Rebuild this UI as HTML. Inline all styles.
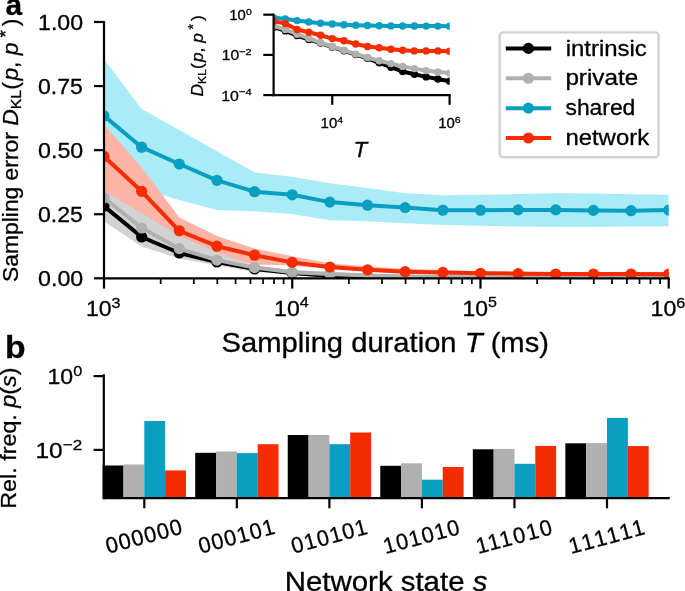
<!DOCTYPE html>
<html><head><meta charset="utf-8"><title>Sampling error figure</title>
<style>html,body{margin:0;padding:0;background:#fff;overflow:hidden}svg{display:block;will-change:transform}text{font-family:"Liberation Sans",sans-serif;stroke:#000;stroke-width:0.3px;stroke-linejoin:round}</style>
</head><body>
<svg width="685" height="591" viewBox="0 0 685 591">
<rect width="685" height="591" fill="#ffffff"/>
<defs><clipPath id="ca"><rect x="104" y="22" width="564.7" height="256.3"/></clipPath><clipPath id="ci"><rect x="273.6" y="14.7" width="176" height="80.6"/></clipPath></defs>
<g clip-path="url(#ca)">
<polygon points="104,59 141.65,108.9 179.29,130 216.94,151.2 254.59,172.5 292.23,176.8 329.88,183.3 367.53,188 405.17,193.2 442.82,195.3 480.47,194.8 518.11,194 555.76,193.2 593.41,193.4 631.05,194.2 668.7,194.8 668.7,226.2 631.05,226.5 593.41,226.7 555.76,226.7 518.11,226.4 480.47,225.8 442.82,225 405.17,223.2 367.53,221.2 329.88,220.3 292.23,214 254.59,211.2 216.94,210 179.29,200 141.65,189 104,178" fill="#aaebf8"/>
<polygon points="104,124.5 141.65,167.5 179.29,217.5 216.94,236 254.59,248.5 292.23,256.2 329.88,263.3 367.53,266.5 405.17,268.8 442.82,270 480.47,271.2 518.11,271.6 555.76,271.9 593.41,271.9 631.05,271.9 668.7,272.1 668.7,276.2 631.05,276 593.41,276 555.76,276 518.11,275.7 480.47,275.3 442.82,274.4 405.17,273.7 367.53,271.5 329.88,269 292.23,265.5 254.59,264.5 216.94,257 179.29,244 141.65,222 104,210" fill="#fbb4a6"/>
<polygon points="104,191.1 141.65,213 179.29,236 216.94,252.5 254.59,265.5 292.23,270 329.88,272 367.53,273.8 405.17,275 442.82,275.8 480.47,276.2 518.11,276.6 555.76,276.9 593.41,277.1 631.05,277.2 668.7,277.3 668.7,278.3 631.05,278.3 593.41,278.3 555.76,278.3 518.11,278.3 480.47,278.3 442.82,278.3 405.17,278 367.53,277.5 329.88,276.5 292.23,274.8 254.59,271.7 216.94,265.5 179.29,258.5 141.65,246.6 104,221.5" fill="#d3d3d3"/>
<polyline points="104,206.1 141.65,237 179.29,253 216.94,262 254.59,269 292.23,273 329.88,276 367.53,277 405.17,277.8 442.82,277.9 480.47,278 518.11,278 555.76,278 593.41,278 631.05,278 668.7,278" fill="none" stroke="#000000" stroke-width="4" stroke-linejoin="round"/>
<circle cx="104" cy="206.1" r="5.6" fill="#000000"/>
<circle cx="141.65" cy="237" r="5.6" fill="#000000"/>
<circle cx="179.29" cy="253" r="5.6" fill="#000000"/>
<circle cx="216.94" cy="262" r="5.6" fill="#000000"/>
<circle cx="254.59" cy="269" r="5.6" fill="#000000"/>
<circle cx="292.23" cy="273" r="5.6" fill="#000000"/>
<circle cx="329.88" cy="276" r="5.6" fill="#000000"/>
<circle cx="367.53" cy="277" r="5.6" fill="#000000"/>
<circle cx="405.17" cy="277.8" r="5.6" fill="#000000"/>
<circle cx="442.82" cy="277.9" r="5.6" fill="#000000"/>
<circle cx="480.47" cy="278" r="5.6" fill="#000000"/>
<circle cx="518.11" cy="278" r="5.6" fill="#000000"/>
<circle cx="555.76" cy="278" r="5.6" fill="#000000"/>
<circle cx="593.41" cy="278" r="5.6" fill="#000000"/>
<circle cx="631.05" cy="278" r="5.6" fill="#000000"/>
<circle cx="668.7" cy="278" r="5.6" fill="#000000"/>
<polyline points="104,197.8 141.65,228 179.29,248.6 216.94,260.1 254.59,267.6 292.23,272.3 329.88,274 367.53,275.5 405.17,276.4 442.82,277 480.47,277.35 518.11,277.6 555.76,277.75 593.41,277.85 631.05,277.95 668.7,278" fill="none" stroke="#b0b0b0" stroke-width="4" stroke-linejoin="round"/>
<circle cx="104" cy="197.8" r="5.6" fill="#b0b0b0"/>
<circle cx="141.65" cy="228" r="5.6" fill="#b0b0b0"/>
<circle cx="179.29" cy="248.6" r="5.6" fill="#b0b0b0"/>
<circle cx="216.94" cy="260.1" r="5.6" fill="#b0b0b0"/>
<circle cx="254.59" cy="267.6" r="5.6" fill="#b0b0b0"/>
<circle cx="292.23" cy="272.3" r="5.6" fill="#b0b0b0"/>
<circle cx="329.88" cy="274" r="5.6" fill="#b0b0b0"/>
<circle cx="367.53" cy="275.5" r="5.6" fill="#b0b0b0"/>
<circle cx="405.17" cy="276.4" r="5.6" fill="#b0b0b0"/>
<circle cx="442.82" cy="277" r="5.6" fill="#b0b0b0"/>
<circle cx="480.47" cy="277.35" r="5.6" fill="#b0b0b0"/>
<circle cx="518.11" cy="277.6" r="5.6" fill="#b0b0b0"/>
<circle cx="555.76" cy="277.75" r="5.6" fill="#b0b0b0"/>
<circle cx="593.41" cy="277.85" r="5.6" fill="#b0b0b0"/>
<circle cx="631.05" cy="277.95" r="5.6" fill="#b0b0b0"/>
<circle cx="668.7" cy="278" r="5.6" fill="#b0b0b0"/>
<polyline points="104,115.8 141.65,147.2 179.29,164 216.94,180.3 254.59,191.7 292.23,194.8 329.88,202.1 367.53,205.2 405.17,207.6 442.82,210.2 480.47,210.2 518.11,209.9 555.76,209.9 593.41,210.4 631.05,210.7 668.7,210.1" fill="none" stroke="#0a9fc1" stroke-width="4" stroke-linejoin="round"/>
<circle cx="104" cy="115.8" r="5.6" fill="#0a9fc1"/>
<circle cx="141.65" cy="147.2" r="5.6" fill="#0a9fc1"/>
<circle cx="179.29" cy="164" r="5.6" fill="#0a9fc1"/>
<circle cx="216.94" cy="180.3" r="5.6" fill="#0a9fc1"/>
<circle cx="254.59" cy="191.7" r="5.6" fill="#0a9fc1"/>
<circle cx="292.23" cy="194.8" r="5.6" fill="#0a9fc1"/>
<circle cx="329.88" cy="202.1" r="5.6" fill="#0a9fc1"/>
<circle cx="367.53" cy="205.2" r="5.6" fill="#0a9fc1"/>
<circle cx="405.17" cy="207.6" r="5.6" fill="#0a9fc1"/>
<circle cx="442.82" cy="210.2" r="5.6" fill="#0a9fc1"/>
<circle cx="480.47" cy="210.2" r="5.6" fill="#0a9fc1"/>
<circle cx="518.11" cy="209.9" r="5.6" fill="#0a9fc1"/>
<circle cx="555.76" cy="209.9" r="5.6" fill="#0a9fc1"/>
<circle cx="593.41" cy="210.4" r="5.6" fill="#0a9fc1"/>
<circle cx="631.05" cy="210.7" r="5.6" fill="#0a9fc1"/>
<circle cx="668.7" cy="210.1" r="5.6" fill="#0a9fc1"/>
<polyline points="104,156.4 141.65,191.3 179.29,230.8 216.94,246.2 254.59,255.2 292.23,262.4 329.88,267 367.53,269.8 405.17,271.7 442.82,272.4 480.47,273.3 518.11,273.7 555.76,274 593.41,274 631.05,274 668.7,274.2" fill="none" stroke="#f52c00" stroke-width="4" stroke-linejoin="round"/>
<circle cx="104" cy="156.4" r="5.6" fill="#f52c00"/>
<circle cx="141.65" cy="191.3" r="5.6" fill="#f52c00"/>
<circle cx="179.29" cy="230.8" r="5.6" fill="#f52c00"/>
<circle cx="216.94" cy="246.2" r="5.6" fill="#f52c00"/>
<circle cx="254.59" cy="255.2" r="5.6" fill="#f52c00"/>
<circle cx="292.23" cy="262.4" r="5.6" fill="#f52c00"/>
<circle cx="329.88" cy="267" r="5.6" fill="#f52c00"/>
<circle cx="367.53" cy="269.8" r="5.6" fill="#f52c00"/>
<circle cx="405.17" cy="271.7" r="5.6" fill="#f52c00"/>
<circle cx="442.82" cy="272.4" r="5.6" fill="#f52c00"/>
<circle cx="480.47" cy="273.3" r="5.6" fill="#f52c00"/>
<circle cx="518.11" cy="273.7" r="5.6" fill="#f52c00"/>
<circle cx="555.76" cy="274" r="5.6" fill="#f52c00"/>
<circle cx="593.41" cy="274" r="5.6" fill="#f52c00"/>
<circle cx="631.05" cy="274" r="5.6" fill="#f52c00"/>
<circle cx="668.7" cy="274.2" r="5.6" fill="#f52c00"/>
</g>
<g stroke="#000000" stroke-width="2.2" fill="none" stroke-linecap="square">
<line x1="104" y1="22" x2="104" y2="278.3"/>
<line x1="104" y1="278.3" x2="668.7" y2="278.3"/>
</g>
<g stroke="#000000" fill="none">
<line x1="94" y1="278.3" x2="104" y2="278.3" stroke-width="2.2"/>
<line x1="94" y1="214.23" x2="104" y2="214.23" stroke-width="2.2"/>
<line x1="94" y1="150.15" x2="104" y2="150.15" stroke-width="2.2"/>
<line x1="94" y1="86.07" x2="104" y2="86.07" stroke-width="2.2"/>
<line x1="94" y1="22" x2="104" y2="22" stroke-width="2.2"/>
<line x1="104" y1="278.3" x2="104" y2="288.6" stroke-width="2.2"/>
<line x1="292.23" y1="278.3" x2="292.23" y2="288.6" stroke-width="2.2"/>
<line x1="480.47" y1="278.3" x2="480.47" y2="288.6" stroke-width="2.2"/>
<line x1="668.7" y1="278.3" x2="668.7" y2="288.6" stroke-width="2.2"/>
<line x1="160.66" y1="278.3" x2="160.66" y2="284" stroke-width="1.7"/>
<line x1="193.81" y1="278.3" x2="193.81" y2="284" stroke-width="1.7"/>
<line x1="217.33" y1="278.3" x2="217.33" y2="284" stroke-width="1.7"/>
<line x1="235.57" y1="278.3" x2="235.57" y2="284" stroke-width="1.7"/>
<line x1="250.47" y1="278.3" x2="250.47" y2="284" stroke-width="1.7"/>
<line x1="263.08" y1="278.3" x2="263.08" y2="284" stroke-width="1.7"/>
<line x1="273.99" y1="278.3" x2="273.99" y2="284" stroke-width="1.7"/>
<line x1="283.62" y1="278.3" x2="283.62" y2="284" stroke-width="1.7"/>
<line x1="348.9" y1="278.3" x2="348.9" y2="284" stroke-width="1.7"/>
<line x1="382.04" y1="278.3" x2="382.04" y2="284" stroke-width="1.7"/>
<line x1="405.56" y1="278.3" x2="405.56" y2="284" stroke-width="1.7"/>
<line x1="423.8" y1="278.3" x2="423.8" y2="284" stroke-width="1.7"/>
<line x1="438.71" y1="278.3" x2="438.71" y2="284" stroke-width="1.7"/>
<line x1="451.31" y1="278.3" x2="451.31" y2="284" stroke-width="1.7"/>
<line x1="462.22" y1="278.3" x2="462.22" y2="284" stroke-width="1.7"/>
<line x1="471.85" y1="278.3" x2="471.85" y2="284" stroke-width="1.7"/>
<line x1="537.13" y1="278.3" x2="537.13" y2="284" stroke-width="1.7"/>
<line x1="570.28" y1="278.3" x2="570.28" y2="284" stroke-width="1.7"/>
<line x1="593.79" y1="278.3" x2="593.79" y2="284" stroke-width="1.7"/>
<line x1="612.04" y1="278.3" x2="612.04" y2="284" stroke-width="1.7"/>
<line x1="626.94" y1="278.3" x2="626.94" y2="284" stroke-width="1.7"/>
<line x1="639.54" y1="278.3" x2="639.54" y2="284" stroke-width="1.7"/>
<line x1="650.46" y1="278.3" x2="650.46" y2="284" stroke-width="1.7"/>
<line x1="660.09" y1="278.3" x2="660.09" y2="284" stroke-width="1.7"/>
</g>
</g>
<g clip-path="url(#ci)">
<polyline points="273.6,27.2 285.33,30.9 297.07,35.6 308.8,39.6 320.53,43.1 332.27,47 344,50.8 355.73,54.6 367.47,58.3 379.2,62.8 390.93,67.2 402.67,71.5 414.4,74.3 426.13,76.9 437.87,79 449.6,81.2" fill="none" stroke="#000000" stroke-width="4" stroke-linejoin="round"/>
<circle cx="273.6" cy="27.2" r="3.7" fill="#000000"/>
<circle cx="285.33" cy="30.9" r="3.7" fill="#000000"/>
<circle cx="297.07" cy="35.6" r="3.7" fill="#000000"/>
<circle cx="308.8" cy="39.6" r="3.7" fill="#000000"/>
<circle cx="320.53" cy="43.1" r="3.7" fill="#000000"/>
<circle cx="332.27" cy="47" r="3.7" fill="#000000"/>
<circle cx="344" cy="50.8" r="3.7" fill="#000000"/>
<circle cx="355.73" cy="54.6" r="3.7" fill="#000000"/>
<circle cx="367.47" cy="58.3" r="3.7" fill="#000000"/>
<circle cx="379.2" cy="62.8" r="3.7" fill="#000000"/>
<circle cx="390.93" cy="67.2" r="3.7" fill="#000000"/>
<circle cx="402.67" cy="71.5" r="3.7" fill="#000000"/>
<circle cx="414.4" cy="74.3" r="3.7" fill="#000000"/>
<circle cx="426.13" cy="76.9" r="3.7" fill="#000000"/>
<circle cx="437.87" cy="79" r="3.7" fill="#000000"/>
<circle cx="449.6" cy="81.2" r="3.7" fill="#000000"/>
<polyline points="273.6,25.8 285.33,29.5 297.07,34.2 308.8,38.3 320.53,42.6 332.27,46.5 344,50.3 355.73,54.1 367.47,57.5 379.2,60.7 390.93,63.6 402.67,66.4 414.4,68.6 426.13,70.6 437.87,72 449.6,73.1" fill="none" stroke="#b0b0b0" stroke-width="4" stroke-linejoin="round"/>
<circle cx="273.6" cy="25.8" r="3.7" fill="#b0b0b0"/>
<circle cx="285.33" cy="29.5" r="3.7" fill="#b0b0b0"/>
<circle cx="297.07" cy="34.2" r="3.7" fill="#b0b0b0"/>
<circle cx="308.8" cy="38.3" r="3.7" fill="#b0b0b0"/>
<circle cx="320.53" cy="42.6" r="3.7" fill="#b0b0b0"/>
<circle cx="332.27" cy="46.5" r="3.7" fill="#b0b0b0"/>
<circle cx="344" cy="50.3" r="3.7" fill="#b0b0b0"/>
<circle cx="355.73" cy="54.1" r="3.7" fill="#b0b0b0"/>
<circle cx="367.47" cy="57.5" r="3.7" fill="#b0b0b0"/>
<circle cx="379.2" cy="60.7" r="3.7" fill="#b0b0b0"/>
<circle cx="390.93" cy="63.6" r="3.7" fill="#b0b0b0"/>
<circle cx="402.67" cy="66.4" r="3.7" fill="#b0b0b0"/>
<circle cx="414.4" cy="68.6" r="3.7" fill="#b0b0b0"/>
<circle cx="426.13" cy="70.6" r="3.7" fill="#b0b0b0"/>
<circle cx="437.87" cy="72" r="3.7" fill="#b0b0b0"/>
<circle cx="449.6" cy="73.1" r="3.7" fill="#b0b0b0"/>
<polyline points="273.6,17.6 285.33,19 297.07,20.6 308.8,22 320.53,23.2 332.27,24 344,24.7 355.73,25.2 367.47,25.5 379.2,25.7 390.93,25.9 402.67,26 414.4,26 426.13,26.1 437.87,26.1 449.6,26.2" fill="none" stroke="#0a9fc1" stroke-width="4" stroke-linejoin="round"/>
<circle cx="273.6" cy="17.6" r="3.7" fill="#0a9fc1"/>
<circle cx="285.33" cy="19" r="3.7" fill="#0a9fc1"/>
<circle cx="297.07" cy="20.6" r="3.7" fill="#0a9fc1"/>
<circle cx="308.8" cy="22" r="3.7" fill="#0a9fc1"/>
<circle cx="320.53" cy="23.2" r="3.7" fill="#0a9fc1"/>
<circle cx="332.27" cy="24" r="3.7" fill="#0a9fc1"/>
<circle cx="344" cy="24.7" r="3.7" fill="#0a9fc1"/>
<circle cx="355.73" cy="25.2" r="3.7" fill="#0a9fc1"/>
<circle cx="367.47" cy="25.5" r="3.7" fill="#0a9fc1"/>
<circle cx="379.2" cy="25.7" r="3.7" fill="#0a9fc1"/>
<circle cx="390.93" cy="25.9" r="3.7" fill="#0a9fc1"/>
<circle cx="402.67" cy="26" r="3.7" fill="#0a9fc1"/>
<circle cx="414.4" cy="26" r="3.7" fill="#0a9fc1"/>
<circle cx="426.13" cy="26.1" r="3.7" fill="#0a9fc1"/>
<circle cx="437.87" cy="26.1" r="3.7" fill="#0a9fc1"/>
<circle cx="449.6" cy="26.2" r="3.7" fill="#0a9fc1"/>
<polyline points="273.6,21.3 285.33,23.6 297.07,29.5 308.8,32.3 320.53,35.3 332.27,38.6 344,40.8 355.73,44 367.47,46.5 379.2,47.8 390.93,49.3 402.67,50.3 414.4,50.9 426.13,50.9 437.87,50.9 449.6,51.2" fill="none" stroke="#f52c00" stroke-width="4" stroke-linejoin="round"/>
<circle cx="273.6" cy="21.3" r="3.7" fill="#f52c00"/>
<circle cx="285.33" cy="23.6" r="3.7" fill="#f52c00"/>
<circle cx="297.07" cy="29.5" r="3.7" fill="#f52c00"/>
<circle cx="308.8" cy="32.3" r="3.7" fill="#f52c00"/>
<circle cx="320.53" cy="35.3" r="3.7" fill="#f52c00"/>
<circle cx="332.27" cy="38.6" r="3.7" fill="#f52c00"/>
<circle cx="344" cy="40.8" r="3.7" fill="#f52c00"/>
<circle cx="355.73" cy="44" r="3.7" fill="#f52c00"/>
<circle cx="367.47" cy="46.5" r="3.7" fill="#f52c00"/>
<circle cx="379.2" cy="47.8" r="3.7" fill="#f52c00"/>
<circle cx="390.93" cy="49.3" r="3.7" fill="#f52c00"/>
<circle cx="402.67" cy="50.3" r="3.7" fill="#f52c00"/>
<circle cx="414.4" cy="50.9" r="3.7" fill="#f52c00"/>
<circle cx="426.13" cy="50.9" r="3.7" fill="#f52c00"/>
<circle cx="437.87" cy="50.9" r="3.7" fill="#f52c00"/>
<circle cx="449.6" cy="51.2" r="3.7" fill="#f52c00"/>
</g>
<g stroke="#000" fill="none" stroke-width="2.2" stroke-linecap="square">
<line x1="273.6" y1="14.7" x2="273.6" y2="95.1"/>
<line x1="273.6" y1="95.1" x2="449.6" y2="95.1"/>
</g><g stroke="#000" fill="none" stroke-width="2.2">
<line x1="263.3" y1="14.7" x2="273.6" y2="14.7"/>
<line x1="263.3" y1="54.9" x2="273.6" y2="54.9"/>
<line x1="263.3" y1="95.1" x2="273.6" y2="95.1"/>
<line x1="332.27" y1="95.1" x2="332.27" y2="104.8"/>
<line x1="449.6" y1="95.1" x2="449.6" y2="104.8"/>
</g>
<rect x="499.7" y="32.4" width="158.9" height="124.9" rx="3.5" fill="#fff" stroke="#d1d1d1" stroke-width="2.4"/>
<line x1="505.8" y1="48.4" x2="551.2" y2="48.4" stroke="#000000" stroke-width="4"/>
<circle cx="528.4" cy="48.4" r="5.6" fill="#000000"/>
<line x1="505.8" y1="78.27" x2="551.2" y2="78.27" stroke="#b0b0b0" stroke-width="4"/>
<circle cx="528.4" cy="78.27" r="5.6" fill="#b0b0b0"/>
<line x1="505.8" y1="108.14" x2="551.2" y2="108.14" stroke="#0a9fc1" stroke-width="4"/>
<circle cx="528.4" cy="108.14" r="5.6" fill="#0a9fc1"/>
<line x1="505.8" y1="138.01" x2="551.2" y2="138.01" stroke="#f52c00" stroke-width="4"/>
<circle cx="528.4" cy="138.01" r="5.6" fill="#f52c00"/>
<g>
<rect x="102.66" y="465.5" width="20.87" height="32.6" fill="#000000"/>
<rect x="123.48" y="464.5" width="20.87" height="33.6" fill="#b0b0b0"/>
<rect x="144.3" y="421" width="20.87" height="77.1" fill="#0a9fc1"/>
<rect x="165.12" y="470.4" width="20.87" height="27.7" fill="#f52c00"/>
<rect x="195.2" y="452.8" width="20.87" height="45.3" fill="#000000"/>
<rect x="216.02" y="451.5" width="20.87" height="46.6" fill="#b0b0b0"/>
<rect x="236.84" y="453.1" width="20.87" height="45" fill="#0a9fc1"/>
<rect x="257.66" y="444.2" width="20.87" height="53.9" fill="#f52c00"/>
<rect x="287.74" y="435" width="20.87" height="63.1" fill="#000000"/>
<rect x="308.56" y="435" width="20.87" height="63.1" fill="#b0b0b0"/>
<rect x="329.38" y="444.2" width="20.87" height="53.9" fill="#0a9fc1"/>
<rect x="350.2" y="432.5" width="20.87" height="65.6" fill="#f52c00"/>
<rect x="380.28" y="465.8" width="20.87" height="32.3" fill="#000000"/>
<rect x="401.1" y="463.3" width="20.87" height="34.8" fill="#b0b0b0"/>
<rect x="421.92" y="479.7" width="20.87" height="18.4" fill="#0a9fc1"/>
<rect x="442.74" y="467" width="20.87" height="31.1" fill="#f52c00"/>
<rect x="472.82" y="449.3" width="20.87" height="48.8" fill="#000000"/>
<rect x="493.64" y="448.9" width="20.87" height="49.2" fill="#b0b0b0"/>
<rect x="514.46" y="463.8" width="20.87" height="34.3" fill="#0a9fc1"/>
<rect x="535.28" y="445.9" width="20.87" height="52.2" fill="#f52c00"/>
<rect x="565.36" y="443.3" width="20.87" height="54.8" fill="#000000"/>
<rect x="586.18" y="443.1" width="20.87" height="55" fill="#b0b0b0"/>
<rect x="607" y="417.9" width="20.87" height="80.2" fill="#0a9fc1"/>
<rect x="627.82" y="446.1" width="20.87" height="52" fill="#f52c00"/>
</g>
<g stroke="#000" fill="none" stroke-width="2.2" stroke-linecap="square">
<line x1="103.8" y1="375.4" x2="103.8" y2="498.1"/>
<line x1="103.8" y1="498.1" x2="668.7" y2="498.1"/>
</g><g stroke="#000" fill="none" stroke-width="2.2">
<line x1="93.6" y1="376.1" x2="103.8" y2="376.1"/>
<line x1="93.6" y1="449.9" x2="103.8" y2="449.9"/>
<line x1="144.3" y1="498.1" x2="144.3" y2="508.3"/>
<line x1="236.84" y1="498.1" x2="236.84" y2="508.3"/>
<line x1="329.38" y1="498.1" x2="329.38" y2="508.3"/>
<line x1="421.92" y1="498.1" x2="421.92" y2="508.3"/>
<line x1="514.46" y1="498.1" x2="514.46" y2="508.3"/>
<line x1="607" y1="498.1" x2="607" y2="508.3"/>
</g>
<g fill="#000">
<text transform="translate(37.992,285.944) scale(1.077,1.024)" font-size="21.6">0.00</text>
<text transform="translate(38.001,221.874) scale(1.065,1.024)" font-size="21.6">0.25</text>
<text transform="translate(37.992,157.794) scale(1.077,1.024)" font-size="21.6">0.50</text>
<text transform="translate(38.001,93.724) scale(1.065,1.024)" font-size="21.6">0.75</text>
<text transform="translate(38.061,29.644) scale(1.072,1.024)" font-size="21.6">1.00</text>
<text transform="translate(86.002,315.568) scale(1.066,1.006)" font-size="21.6">10<tspan font-size="15.12" dy="-7.99">3</tspan></text>
<text transform="translate(274.045,315.567) scale(1.069,1.013)" font-size="21.6">10<tspan font-size="15.12" dy="-7.99">4</tspan></text>
<text transform="translate(462.54,315.567) scale(1.061,1.013)" font-size="21.6">10<tspan font-size="15.12" dy="-7.99">5</tspan></text>
<text transform="translate(650.57,315.568) scale(1.073,1.006)" font-size="21.6">10<tspan font-size="15.12" dy="-7.99">6</tspan></text>
<text transform="translate(221.499,352.224) scale(1.101,1.01)" font-size="26.5">Sampling duration <tspan font-style="italic">T</tspan> (ms)</text>
<text transform="translate(18.23,281.893) rotate(-90) scale(1.057,1)" font-size="21.6">Sampling error <tspan font-style="italic">D</tspan><tspan font-size="15.12" dy="3.24">KL</tspan><tspan dy="-3.24">(</tspan><tspan font-style="italic" dx="1.51">p</tspan>, <tspan font-style="italic">p</tspan><tspan font-size="17.71" dx="4.75" dy="-6.48">*</tspan><tspan dx="3.67" dy="6.48">)</tspan></text>
<text transform="translate(5.378,15.314) scale(0.963,0.972)" font-size="31" font-weight="bold">a</text>
<text transform="translate(4.925,357.608) scale(1.088,0.984)" font-size="31" font-weight="bold">b</text>
<text transform="translate(229.337,20.17) scale(1.063,1)" font-size="14">10<tspan font-size="9.80" dy="-5.18">0</tspan></text>
<text transform="translate(221.782,60.373) scale(1.118,0.99)" font-size="14">10<tspan font-size="9.80" dy="-5.18">&#8722;2</tspan></text>
<text transform="translate(221.263,100.57) scale(1.137,0.999)" font-size="14">10<tspan font-size="9.80" dy="-5.18">&#8722;4</tspan></text>
<text transform="translate(320.565,128.27) scale(1.07,0.999)" font-size="14">10<tspan font-size="9.80" dy="-5.18">4</tspan></text>
<text transform="translate(438.237,128.27) scale(1.063,1)" font-size="14">10<tspan font-size="9.80" dy="-5.18">6</tspan></text>
<text transform="translate(353.481,156.9) scale(1.039,1.025)" font-size="21.6" font-style="italic">T</text>
<text transform="translate(203.329,96.441) rotate(-90) scale(1.002,0.974)" font-size="17.3"><tspan font-style="italic">D</tspan><tspan font-size="12.11" dy="2.60">KL</tspan><tspan dy="-2.60">(</tspan><tspan font-style="italic" dx="1.21">p</tspan>, <tspan font-style="italic">p</tspan><tspan font-size="14.19" dx="3.81" dy="-5.19">*</tspan><tspan dx="2.94" dy="5.19">)</tspan></text>
<text transform="translate(565.632,55.996) scale(1.11,1.016)" font-size="21.6">intrinsic</text>
<text transform="translate(565.376,85.451) scale(1.124,1.006)" font-size="21.6">private</text>
<text transform="translate(565.491,115.444) scale(1.058,1.024)" font-size="21.6">shared</text>
<text transform="translate(565.396,144.796) scale(1.107,1.016)" font-size="21.6">network</text>
<text transform="translate(47.476,383.568) scale(1.07,1.006)" font-size="21.6">10<tspan font-size="15.12" dy="-7.99">0</tspan></text>
<text transform="translate(35.499,457.665) scale(1.134,1.019)" font-size="21.6">10<tspan font-size="15.12" dy="-7.99">&#8722;2</tspan></text>
<text transform="translate(15.858,508.77) rotate(-90) scale(1.08,0.994)" font-size="21.6">Rel. freq. <tspan font-style="italic">p</tspan>(<tspan font-style="italic">s</tspan>)</text>
<text transform="translate(284.781,590.804) scale(1.11,1.013)" font-size="26.5">Network state <tspan font-style="italic">s</tspan></text>
<text transform="translate(107.951,553.642) rotate(-15) scale(1,1.024)" font-size="21.8" letter-spacing="1.1">000000</text>
<text transform="translate(200.824,553.657) rotate(-15) scale(0.997,1.024)" font-size="21.8" letter-spacing="1.1">000101</text>
<text transform="translate(293.454,553.737) rotate(-15) scale(0.997,1.024)" font-size="21.8" letter-spacing="1.1">010101</text>
<text transform="translate(385.599,553.947) rotate(-15) scale(0.997,1.024)" font-size="21.8" letter-spacing="1.1">101010</text>
<text transform="translate(478.224,554.028) rotate(-15) scale(1,1.024)" font-size="21.8" letter-spacing="1.7">111010</text>
<text transform="translate(571.098,554.054) rotate(-15) scale(1,1.025)" font-size="21.8" letter-spacing="2.6">111111</text>
</g>
</svg>
</body></html>
